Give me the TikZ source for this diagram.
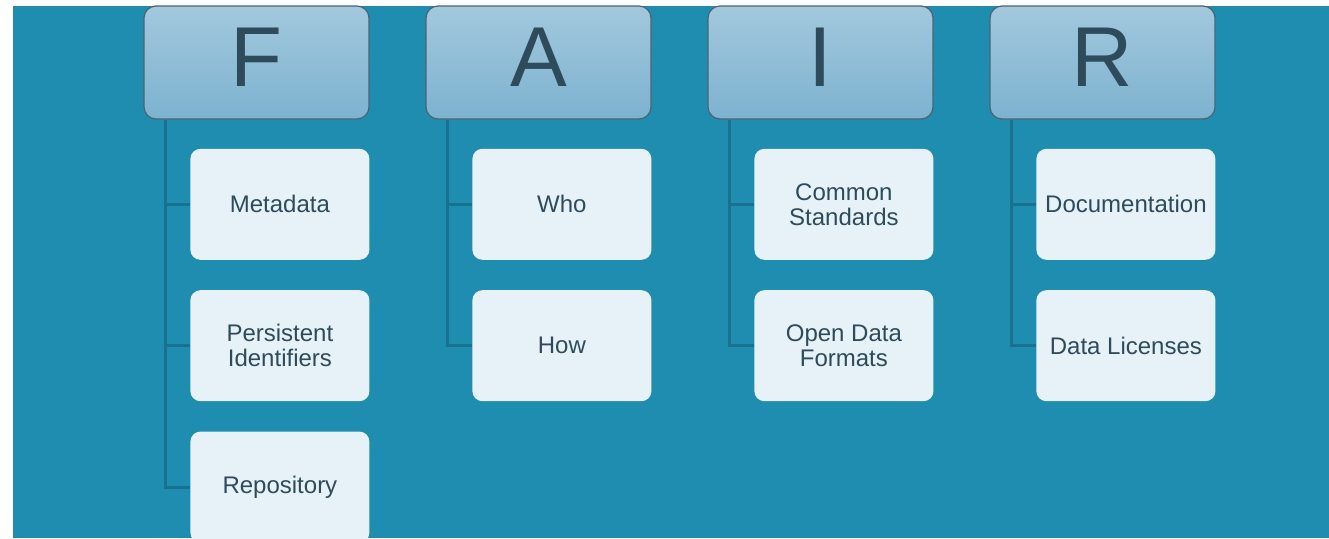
\documentclass[tikz,border=0pt]{standalone}
\usepackage{fontspec}
\setmainfont{Liberation Sans}
\usepackage{xcolor}
\usetikzlibrary{positioning}

\definecolor{bgteal}{HTML}{1F8DB0}
\definecolor{headtop}{HTML}{A2C8DD}
\definecolor{headbot}{HTML}{7DB2CF}
\definecolor{headline}{HTML}{4C6272}
\definecolor{leaffill}{HTML}{E6F2F8}
\definecolor{textcol}{HTML}{2E4B5C}
\definecolor{treeline}{HTML}{19708F}

\begin{document}
\begin{tikzpicture}[x=1pt, y=-1pt, node distance=30pt]
            \tikzset{
                head/.style={draw=headline, line width=1.2pt, shape = rectangle, rounded corners=12pt,
                    top color=headtop, bottom color=headbot, minimum width=225pt, minimum height=113pt,
                    inner sep=0pt, text depth=10pt, text=textcol, font=\fontsize{85}{85}\selectfont},
                leaf/.style={fill=leaffill, shape = rectangle, rounded corners=10pt,
                    minimum width=179pt, minimum height=111pt, inner sep=0pt, align=center,
                    text=textcol, font=\fontsize{24}{25}\selectfont},
                branch/.style={draw=treeline, line width=3pt}
            }
            \useasboundingbox (0,0) rectangle (1329,538);
            \fill[bgteal] (13,6) rectangle (1329,538);

            % letters
            \node[head] (hF) at (256.5,62.5) {F};
            \node[head] (hA) at (538.5,62.5) {A};
            \node[head] (hI) at (820.5,62.5) {I};
            \node[head] (hR) at (1102.5,62.5) {R};

            % F
            \node[leaf] (fMeta) [below=29pt of hF.south east, anchor=north east] {Metadata};
            \node[leaf] (fPid) [below=of fMeta] {Persistent\\Identifiers};
            \node[leaf] (fRepo) [below=of fPid] {Repository};
            % A
            \node[leaf] (aWho) [below=29pt of hA.south east, anchor=north east] {Who};
            \node[leaf] (aHow) [below=of aWho] {How};
            % I
            \node[leaf] (iStd) [below=29pt of hI.south east, anchor=north east] {Common\\Standards};
            \node[leaf] (iFmt) [below=of iStd] {Open Data\\Formats};
            % R
            \node[leaf] (rDoc) [below=29pt of hR.south east, anchor=north east] {Documentation};
            \node[leaf] (rLic) [below=of rDoc] {Data Licenses};

            \coordinate (fT) at ([xshift=22pt]hF.south west);
            \coordinate (aT) at ([xshift=22pt]hA.south west);
            \coordinate (iT) at ([xshift=22pt]hI.south west);
            \coordinate (rT) at ([xshift=22pt]hR.south west);

            \path[branch] (fT) |- (fRepo.west);
            \path[branch] (fT) |- (fPid.west);
            \path[branch] (fT) |- (fMeta.west);
            \path[branch] (aT) |- (aHow.west);
            \path[branch] (aT) |- (aWho.west);
            \path[branch] (iT) |- (iFmt.west);
            \path[branch] (iT) |- (iStd.west);
            \path[branch] (rT) |- (rLic.west);
            \path[branch] (rT) |- (rDoc.west);
\end{tikzpicture}
\end{document}
